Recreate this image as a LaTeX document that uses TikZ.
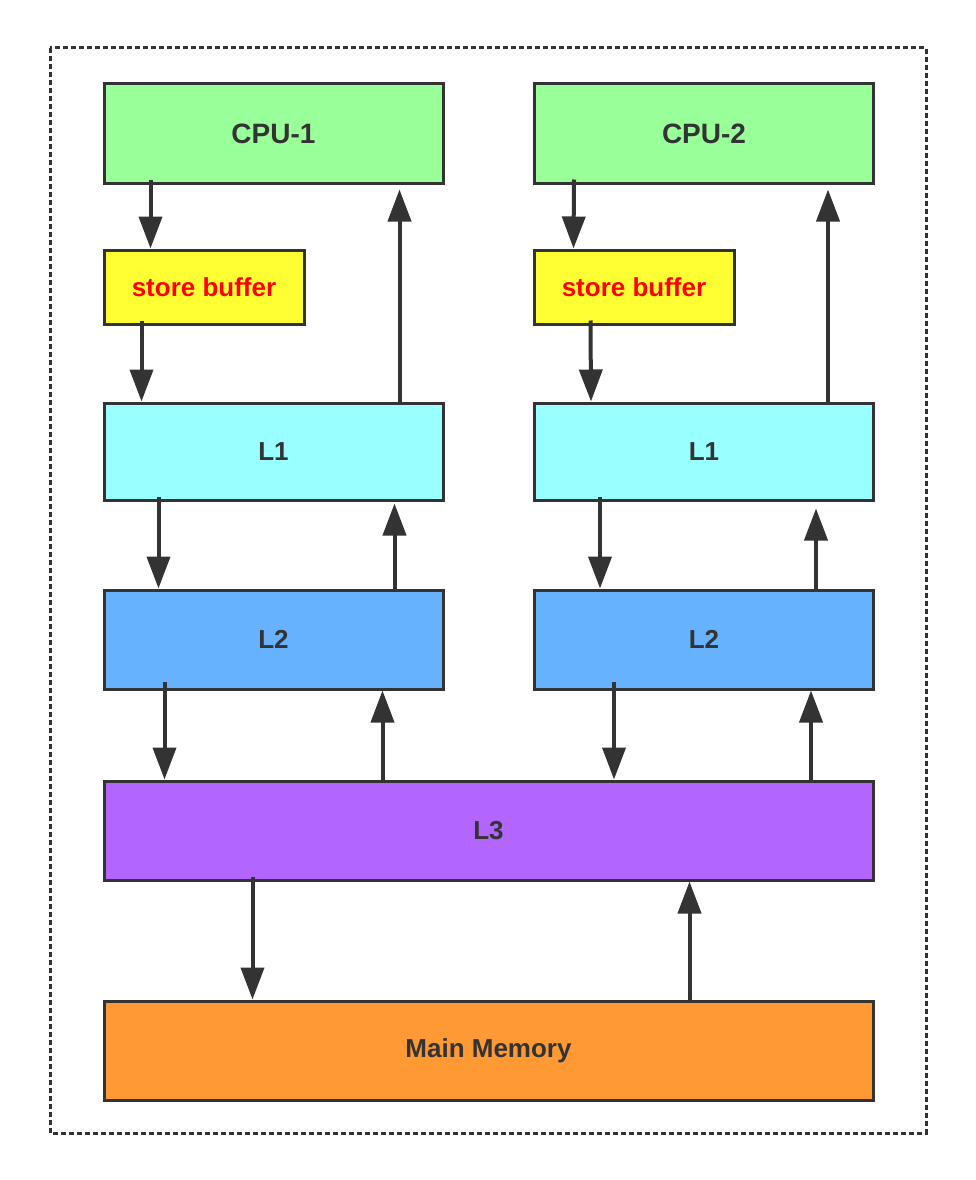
\documentclass[tikz,border=0pt]{standalone}
\usepackage{fontspec}
\setmainfont{Liberation Sans}
\usepackage{tikz}
\usetikzlibrary{arrows.meta, positioning}
\usepackage{xcolor}
\definecolor{cpugreen}{RGB}{153, 255, 153}
\definecolor{bufferyellow}{RGB}{255, 255, 51}
\definecolor{lonecyan}{RGB}{153, 255, 255}
\definecolor{ltwoblue}{RGB}{102, 178, 255}
\definecolor{lthreepurple}{RGB}{178, 102, 255}
\definecolor{memorange}{RGB}{255, 153, 51}
\definecolor{edgegray}{RGB}{51, 51, 51}

\tikzset{
    cachebox/.style={draw=edgegray, line width=3pt, text=edgegray,
        font=\fontsize{26}{30}\selectfont\bfseries, minimum width=339pt, minimum height=99pt},
    bufferbox/.style={cachebox, fill=bufferyellow, text=red, minimum width=200pt, minimum height=74pt},
    flowarrow/.style={draw=edgegray, line width=4pt, -{Triangle[length=32pt, width=23pt]}}
}

\begin{document}
\begin{tikzpicture}[x=1pt, y=-1pt]
    \useasboundingbox (0,0) rectangle (976,1180);
    \draw[edgegray, line width=3pt, dash pattern=on 5pt off 3pt] (50,48) rectangle (926,1133);

    % CPUs and store buffers
    \node[cachebox, fill=cpugreen, font=\fontsize{28}{32}\selectfont\bfseries] (cpuone) at (273.5,133.5) {CPU-1};
    \node[cachebox, fill=cpugreen, font=\fontsize{28}{32}\selectfont\bfseries] (cputwo) at (704,133.5) {CPU-2};
    \node[bufferbox] (bufone) at (204,287) {store buffer};
    \node[bufferbox] (buftwo) at (634,287) {store buffer};

    % Cache levels
    \node[cachebox, fill=lonecyan, minimum height=97pt] (lonea) at (273.5,451.5) {L1};
    \node[cachebox, fill=lonecyan, minimum height=97pt] (loneb) at (704,451.5) {L1};
    \node[cachebox, fill=ltwoblue] (ltwoa) at (273.5,639.5) {L2};
    \node[cachebox, fill=ltwoblue] (ltwob) at (704,639.5) {L2};
    \node[cachebox, fill=lthreepurple, minimum width=769pt] (lthree) at (488.5,830.5) {L3};
    \node[cachebox, fill=memorange, minimum width=769pt] (mainmem) at (488.5,1050.5) {Main Memory};

    % Left core
    \draw[flowarrow] ([xshift=48pt,yshift=5pt]cpuone.south west) -- ([xshift=48pt]bufone.north west);
    \draw[flowarrow] ([xshift=39pt,yshift=5pt]bufone.south west) -- ([xshift=39pt]lonea.north west);
    \draw[flowarrow] ([xshift=297pt]lonea.north west) -- ([xshift=297pt,yshift=-5pt]cpuone.south west);
    \draw[flowarrow] ([xshift=56pt,yshift=5pt]lonea.south west) -- ([xshift=56pt]ltwoa.north west);
    \draw[flowarrow] ([xshift=292pt]ltwoa.north west) -- ([xshift=292pt,yshift=-2pt]lonea.south west);
    \draw[flowarrow] ([xshift=62pt,yshift=9pt]ltwoa.south west) -- ([xshift=62pt]lthree.north west);
    \draw[flowarrow] ([xshift=280pt]lthree.north west) -- ([xshift=280pt]ltwoa.south west);

    % Right core
    \draw[flowarrow] ([xshift=41pt,yshift=5pt]cputwo.south west) -- ([xshift=41pt]buftwo.north west);
    \draw[flowarrow] ([xshift=58pt,yshift=5pt]buftwo.south west) -- ([xshift=58pt]loneb.north west);
    \draw[flowarrow] ([xshift=295pt]loneb.north west) -- ([xshift=295pt,yshift=-5pt]cputwo.south west);
    \draw[flowarrow] ([xshift=67pt,yshift=5pt]loneb.south west) -- ([xshift=67pt]ltwob.north west);
    \draw[flowarrow] ([xshift=283pt]ltwob.north west) -- ([xshift=283pt,yshift=-7pt]loneb.south west);
    \draw[flowarrow] ([xshift=81pt,yshift=9pt]ltwob.south west) -- ([xshift=81pt]lthree.north west -| ltwob.south west);
    \draw[flowarrow] ([xshift=278pt]lthree.north west -| ltwob.south west) -- ([xshift=278pt]ltwob.south west);

    % L3 and memory
    \draw[flowarrow] ([xshift=150pt,yshift=5pt]lthree.south west) -- ([xshift=150pt]mainmem.north west);
    \draw[flowarrow] ([xshift=587pt]mainmem.north west) -- ([xshift=587pt]lthree.south west);
\end{tikzpicture}
\end{document}
